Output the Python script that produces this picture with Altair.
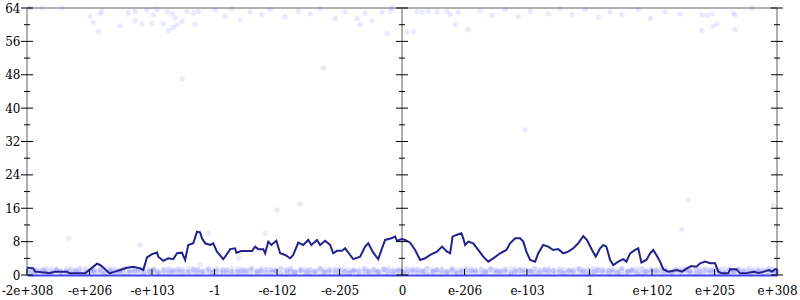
import json
import altair as alt
import pandas as pd

# ---------------- data ----------------
tick_pos = [0, 1, 2, 3, 4, 5, 6, 7, 8, 9, 10, 11, 12]
tick_labels = ["-2e+308", "-e+206", "-e+103", "-1", "-e-102", "-e-205", "0",
               "e-206", "e-103", "1", "e+102", "e+205", "e+308"]
y_major = [0, 8, 16, 24, 32, 40, 48, 56, 64]
y_minor = [4, 12, 20, 28, 36, 44, 52, 60]
axis_lines = [0, 6, 12]

line_x = [0.00, 0.10, 0.13, 0.32, 0.35, 0.45, 0.64, 0.68, 0.93, 1.01, 1.12, 1.17, 1.25, 1.32, 1.41,
          1.49, 1.60, 1.70, 1.81, 1.86, 1.92, 2.00, 2.08, 2.10, 2.18, 2.26, 2.34, 2.40, 2.48, 2.53,
          2.58, 2.66, 2.72, 2.77, 2.80, 2.85, 2.93, 2.98, 3.04, 3.14, 3.19, 3.25, 3.33, 3.35, 3.43,
          3.60, 3.65, 3.70, 3.78, 3.81, 3.86, 3.91, 3.99, 4.05, 4.13, 4.21, 4.26, 4.34, 4.42, 4.50,
          4.55, 4.64, 4.69, 4.77, 4.85, 4.90, 4.96, 5.04, 5.09, 5.17, 5.22, 5.33, 5.41, 5.46, 5.54,
          5.62, 5.68, 5.73, 5.83, 5.89, 5.92, 6.00, 6.05, 6.13, 6.21, 6.29, 6.37, 6.45, 6.56, 6.64,
          6.72, 6.77, 6.81, 6.87, 6.95, 6.98, 7.01, 7.06, 7.14, 7.22, 7.30, 7.38, 7.46, 7.57, 7.67,
          7.73, 7.81, 7.89, 7.94, 7.99, 8.05, 8.13, 8.18, 8.26, 8.34, 8.42, 8.50, 8.58, 8.66, 8.74,
          8.82, 8.90, 8.96, 9.04, 9.10, 9.17, 9.22, 9.27, 9.33, 9.38, 9.46, 9.54, 9.59, 9.65, 9.73,
          9.78, 9.83, 9.91, 9.97, 10.02, 10.07, 10.13, 10.18, 10.26, 10.40, 10.48, 10.56, 10.63,
          10.71, 10.77, 10.85, 10.93, 11.01, 11.06, 11.11, 11.22, 11.25, 11.35, 11.41, 11.52, 11.63,
          11.71, 11.79, 11.87, 11.92, 11.97, 12.00]
line_err = [1.75, 1.6, 0.8, 0.55, 0.4, 0.8, 0.8, 0.4, 0.4, 1.35, 2.7, 2.4, 1.4, 0.4, 0.8,
            1.2, 1.75, 2.0, 1.6, 1.2, 4.2, 5.0, 5.4, 4.4, 3.4, 4.0, 3.8, 5.2, 5.35, 3.6,
            7.2, 7.6, 10.4, 10.2, 8.8, 7.6, 7.2, 7.6, 5.6, 3.8, 4.8, 6.2, 6.4, 5.35, 5.75,
            5.75, 6.8, 6.2, 6.2, 5.2, 8.0, 7.2, 8.2, 5.2, 4.8, 4.0, 4.8, 7.75, 7.2, 8.4,
            7.2, 8.4, 7.2, 8.2, 7.2, 5.2, 5.8, 5.8, 6.4, 4.8, 3.8, 4.4, 6.8, 7.6, 5.35,
            3.8, 6.4, 8.4, 8.8, 9.2, 8.2, 8.6, 8.4, 7.75, 6.0, 3.6, 4.0, 4.8, 5.6, 6.8,
            5.6, 5.2, 9.2, 9.6, 10.0, 8.8, 7.2, 8.0, 7.6, 6.0, 4.4, 3.2, 4.0, 5.2, 6.0,
            7.6, 8.8, 8.8, 8.0, 5.6, 3.6, 3.2, 5.2, 7.2, 6.8, 6.0, 6.2, 5.2, 5.6, 6.4,
            7.6, 9.35, 8.4, 6.0, 4.4, 6.4, 7.2, 6.8, 3.6, 2.4, 3.2, 3.8, 3.2, 5.2, 6.0,
            6.4, 3.0, 3.6, 5.2, 6.0, 4.8, 3.2, 1.4, 0.8, 1.2, 0.8, 1.6, 2.15,
            2.0, 2.8, 3.2, 2.8, 2.8, 0.8, 0.4, 0.4, 1.4, 1.4, 0.4, 0.5, 0.8,
            0.5, 0.8, 1.2, 0.8, 1.4, 1.4]

band_x = [0.03, 0.10, 0.16, 0.25, 0.31, 0.39, 0.47, 0.54, 0.63, 0.70,
          0.78, 0.85, 0.94, 1.02, 1.08, 1.17, 1.24, 1.33, 1.41, 1.48,
          1.55, 1.64, 1.72, 1.79, 1.87, 1.96, 2.03, 2.10, 2.19, 2.27,
          2.34, 2.42, 2.49, 2.58, 2.66, 2.73, 2.81, 2.90, 2.97, 3.04,
          3.13, 3.20, 3.28, 3.37, 3.44, 3.51, 3.59, 3.68, 3.75, 3.83,
          3.91, 3.98, 4.06, 4.15, 4.22, 4.29, 4.38, 4.46, 4.53, 4.61,
          4.69, 4.76, 4.84, 4.93, 5.00, 5.08, 5.16, 5.23, 5.31, 5.40,
          5.47, 5.55, 5.62, 5.71, 5.78, 5.86, 5.94, 6.02, 6.09, 6.17,
          6.25, 6.33, 6.40, 6.49, 6.56, 6.64, 6.72, 6.80, 6.87, 6.95,
          7.03, 7.11, 7.18, 7.27, 7.34, 7.42, 7.50, 7.57, 7.65, 7.74,
          7.81, 7.89, 7.96, 8.05, 8.12, 8.20, 8.28, 8.35, 8.43, 8.52,
          8.59, 8.67, 8.74, 8.83, 8.90, 8.98, 9.06, 9.13, 9.21, 9.30,
          9.37, 9.45, 9.52, 9.61, 9.68, 9.76, 9.84, 9.91, 9.99, 10.07,
          10.15, 10.22, 10.31, 10.38, 10.46, 10.54, 10.61, 10.70, 10.77, 10.85,
          10.93, 11.00, 11.08, 11.16, 11.24, 11.31, 11.39, 11.47, 11.55, 11.62,
          11.70, 11.78, 11.86, 11.93, 11.99]
band_err_a = [0.5, 0.2, 0.8, 0.4, 0.7, 0.3, 0.9, 0.5, 0.6, 0.2,
              0.7, 0.4, 0.9, 0.3, 0.6, 0.5, 0.2, 0.8, 0.4, 0.7,
              0.3, 0.6, 0.9, 0.2, 0.5, 0.8, 0.4, 0.6, 0.3, 0.7,
              0.5, 0.9, 0.2, 0.6, 0.4, 0.8, 0.3, 0.5, 0.7, 0.2,
              0.8, 0.3, 0.6, 0.5, 0.9, 0.4, 0.2, 0.7, 0.5, 0.3,
              0.6, 0.8, 0.4, 0.2, 0.7, 0.5, 0.9, 0.3, 0.6, 0.4,
              0.2, 0.7, 0.5, 0.8, 0.3, 0.6, 0.4, 0.9, 0.2, 0.5,
              0.7, 0.3, 0.8, 0.4, 0.6, 0.2, 0.9, 0.5, 0.3, 0.7,
              0.4, 0.6, 0.2, 0.8, 0.5, 0.3, 0.7, 0.9, 0.4, 0.6,
              0.3, 0.8, 0.5, 0.2, 0.6, 0.4, 0.7, 0.3, 0.9, 0.5,
              0.6, 0.2, 0.4, 0.8, 0.7, 0.3, 0.5, 0.9, 0.2, 0.6,
              0.4, 0.7, 0.3, 0.5, 0.8, 0.2, 0.6, 0.4, 0.9, 0.3,
              0.7, 0.5, 0.2, 0.6, 0.8, 0.4, 0.3, 0.7, 0.5, 0.9,
              0.2, 0.6, 0.4, 0.8, 0.3, 0.5, 0.7, 0.2, 0.6, 0.4,
              0.9, 0.3, 0.5, 0.7, 0.2, 0.8, 0.4, 0.6, 0.3, 0.5,
              0.7, 0.2, 0.6, 0.4, 0.8]
band_err_b = [1.2, 1.5, 1.0, 1.4, 1.1, 1.6, 1.3, 0.9, 1.5, 1.2,
              1.0, 1.4, 1.6, 1.1, 1.3, 0.9, 1.5, 1.2, 1.4, 1.0,
              1.6, 1.2, 1.1, 1.4, 0.9, 1.3, 1.5, 1.0, 1.2, 1.6,
              1.1, 1.3, 1.4, 0.9, 1.5, 1.2, 1.0, 1.6, 1.3, 1.1,
              1.4, 1.2, 0.9, 1.5, 1.1, 1.3, 1.6, 1.0, 1.2, 1.4,
              1.3, 1.0, 1.5, 1.2, 1.6, 0.9, 1.1, 1.4, 1.3, 1.0,
              1.5, 1.2, 1.1, 1.4, 1.6, 1.0, 1.3, 0.9, 1.2, 1.5,
              1.1, 1.4, 1.0, 1.3, 1.6, 1.2, 0.9, 1.5, 1.1, 1.4,
              1.2, 1.0, 1.6, 1.3, 1.1, 1.5, 0.9, 1.4, 1.2, 1.0,
              1.6, 1.1, 1.3, 1.4, 1.0, 1.5, 1.2, 0.9, 1.3, 1.6,
              1.1, 1.4, 1.2, 1.0, 1.5, 1.3, 0.9, 1.6, 1.2, 1.1,
              1.4, 1.0, 1.3, 1.5, 1.2, 0.9, 1.6, 1.1, 1.4, 1.0,
              1.3, 1.2, 1.5, 0.9, 1.1, 1.6, 1.4, 1.0, 1.3, 1.2,
              1.5, 1.1, 0.9, 1.4, 1.6, 1.2, 1.0, 1.3, 1.5, 1.1,
              1.2, 1.4, 1.0, 1.6, 1.3, 0.9, 1.5, 1.2, 1.1, 1.4,
              1.0, 1.3, 1.5, 1.2, 1.1]
band_err_c = [0.3, 0.9, 0.6, 1.1, 0.4, 0.8, 1.2, 0.5, 1.0, 0.7,
              1.3, 0.6, 0.3, 1.0, 0.8, 1.2, 0.4, 0.9, 0.6, 1.1,
              0.5, 1.0, 0.7, 1.3, 0.4, 0.8, 1.1, 0.3, 0.9, 0.6,
              1.2, 0.5, 1.0, 0.7, 1.3, 0.4, 0.8, 1.1, 0.6, 0.9,
              0.4, 1.2, 0.7, 1.0, 0.3, 0.8, 1.1, 0.5, 0.9, 1.3,
              0.6, 1.0, 0.3, 1.2, 0.8, 0.5, 1.1, 0.7, 0.4, 0.9,
              1.3, 0.6, 1.0, 0.3, 1.2, 0.8, 0.5, 1.1, 0.7, 0.9,
              0.4, 1.0, 0.6, 1.3, 0.3, 0.9, 1.1, 0.5, 0.8, 1.2,
              0.6, 1.0, 0.4, 0.9, 1.3, 0.7, 0.5, 1.1, 0.3, 0.8,
              1.2, 0.6, 1.0, 0.4, 0.9, 1.3, 0.5, 1.1, 0.7, 0.3,
              0.8, 1.2, 0.6, 1.0, 0.4, 0.9, 1.3, 0.5, 1.1, 0.7,
              0.3, 1.0, 0.8, 1.2, 0.6, 0.4, 0.9, 1.1, 0.5, 1.3,
              0.7, 0.3, 1.0, 0.8, 1.2, 0.6, 0.4, 0.9, 1.1, 0.5,
              1.3, 0.7, 0.3, 1.0, 0.8, 1.2, 0.6, 0.4, 0.9, 1.1,
              0.5, 1.3, 0.7, 0.3, 1.0, 0.8, 1.2, 0.6, 0.4, 0.9,
              1.1, 0.5, 1.3, 0.7, 0.3]
band_err_d = [1.5, 0.7, 1.3, 0.9, 1.6, 0.6, 1.4, 1.1, 0.8, 1.5,
              0.9, 1.6, 0.7, 1.3, 1.0, 1.4, 0.6, 1.5, 1.1, 0.8,
              1.4, 0.7, 1.5, 1.0, 1.6, 0.9, 1.3, 0.6, 1.4, 1.1,
              0.8, 1.5, 0.7, 1.6, 1.0, 1.3, 0.9, 1.4, 0.6, 1.5,
              1.1, 0.8, 1.6, 0.7, 1.3, 1.0, 1.4, 0.9, 1.5, 0.6,
              1.3, 1.1, 1.6, 0.8, 1.4, 0.7, 1.5, 1.0, 1.3, 0.9,
              1.6, 0.6, 1.4, 1.1, 0.8, 1.5, 0.7, 1.3, 1.0, 1.6,
              0.9, 1.4, 0.6, 1.5, 1.1, 0.8, 1.3, 0.7, 1.6, 1.0,
              1.4, 0.9, 1.5, 0.6, 1.3, 1.1, 0.8, 1.6, 0.7, 1.4,
              1.0, 1.5, 0.9, 1.3, 0.6, 1.6, 1.1, 0.8, 1.4, 0.7,
              1.5, 1.0, 1.3, 0.9, 1.6, 0.6, 1.4, 1.1, 0.8, 1.5,
              0.7, 1.3, 1.0, 1.6, 0.9, 1.4, 0.6, 1.5, 1.1, 0.8,
              1.3, 0.7, 1.6, 1.0, 1.4, 0.9, 1.5, 0.6, 1.3, 1.1,
              0.8, 1.6, 0.7, 1.4, 1.0, 1.5, 0.9, 1.3, 0.6, 1.6,
              1.1, 0.8, 1.4, 0.7, 1.5, 1.0, 1.3, 0.9, 1.6, 0.6,
              1.4, 1.1, 0.8, 1.5, 0.7]

top_x = [0.05, 0.24, 0.56, 1.01, 1.06, 1.14, 1.17, 1.20, 1.49, 1.62, 1.73, 1.73, 1.84, 1.92,
         2.00, 2.02, 2.08, 2.18, 2.24, 2.26, 2.32, 2.34, 2.37, 2.40, 2.48, 2.56, 2.66, 2.69, 2.74,
         3.01, 3.17, 3.28, 3.41, 3.57, 3.76, 3.89, 4.13, 4.34, 4.53, 4.69, 4.93, 5.09,
         5.28, 5.33, 5.41, 5.52, 5.68, 5.76, 5.81, 5.84, 6.08, 6.18, 6.24, 6.32, 6.42, 6.56,
         6.72, 6.77, 6.85, 6.90, 7.06, 7.25, 7.44, 7.65, 7.86, 8.05, 8.34, 8.53, 8.72, 8.93,
         9.14, 9.33, 9.52, 9.78, 9.97, 10.21, 10.45, 10.80, 10.80, 10.88, 10.96, 10.98, 11.04,
         11.30, 11.33, 11.33, 11.60]
top_err = [64.0, 64.0, 64.0, 62.0, 60.5, 58.3, 62.6, 63.2, 59.7, 62.8, 61.0, 63.2, 60.2, 63.5,
           60.3, 62.3, 63.7, 60.2, 63.1, 58.6, 62.6, 59.3, 61.6, 60.0, 60.8, 63.2, 62.8, 60.0, 63.2,
           63.5, 62.0, 63.8, 61.2, 63.0, 62.4, 63.6, 61.8, 63.2, 62.6, 63.8, 61.5, 63.0,
           61.5, 60.0, 62.8, 61.0, 63.0, 57.9, 63.2, 64.0, 58.3, 58.3, 63.2, 63.0, 63.2, 63.0,
           63.2, 62.4, 60.0, 63.0, 58.8, 63.4, 62.2, 63.6, 62.0, 63.2, 62.6, 63.8, 62.4, 63.6,
           61.8, 63.0, 62.4, 63.6, 61.5, 63.0, 62.6, 62.3, 58.6, 62.3, 62.6, 59.6, 60.2,
           62.8, 62.3, 58.8, 64.0]

mid_x = [0.67, 1.81, 2.90, 3.39, 3.81, 2.77, 4.37, 4.00, 10.58, 10.48, 11.94, 2.48, 4.74, 7.97]
mid_err = [8.8, 7.2, 10.0, 4.0, 10.0, 2.4, 17.0, 15.6, 18.0, 10.8, 16.8, 47.0, 49.6, 34.8]

# ---------------- tables ----------------
rows = []
for errs in (band_err_a, band_err_b, band_err_c, band_err_d):
    rows += [{"x": a, "err": b} for a, b in zip(band_x, errs)]
rows += [{"x": a, "err": b} for a, b in zip(top_x, top_err)]
rows += [{"x": a, "err": b} for a, b in zip(mid_x, mid_err)]
pts = pd.DataFrame(rows)

line_df = pd.DataFrame({"x": line_x, "err": line_err})
axes_df = pd.DataFrame({"x": axis_lines})
major_df = pd.DataFrame([{"x": a, "y": v} for a in axis_lines for v in y_major])
minor_df = pd.DataFrame([{"x": a, "y": v} for a in axis_lines for v in y_minor])
xtick_df = pd.DataFrame({"x": tick_pos, "y": [0] * len(tick_pos)})

xs = alt.Scale(domain=[0, 12], nice=False, zero=False)
ys = alt.Scale(domain=[0, 64], nice=False, zero=False)
FONT = "DejaVu Serif"

label_expr = json.dumps(tick_labels) + "[round(datum.value)]"

x_axis = alt.Axis(values=tick_pos, labelExpr=label_expr, title=None, ticks=False, tickSize=0,
                  domain=True, domainColor="#4848ee", domainWidth=2, grid=False,
                  labelFont=FONT, labelFontSize=12, labelColor="black", labelPadding=10,
                  labelFlush=False, labelOverlap=False)
y_axis = alt.Axis(values=y_major, title=None, ticks=False, tickSize=0, domain=False, grid=False,
                  labelFont=FONT, labelFontSize=12, labelColor="black", labelPadding=7,
                  labelOverlap=False, labelFlush=False, format="d")


def X(f):
    return alt.X(f, scale=xs, axis=x_axis)


def Y(f):
    return alt.Y(f, scale=ys, axis=y_axis)


rules = alt.Chart(axes_df).mark_rule(color="#b0b0b0", strokeWidth=2).encode(x=X("x:Q"))
top_rule = alt.Chart(pd.DataFrame({"y": [64]})).mark_rule(color="#b0b0b0", strokeWidth=2).encode(y=Y("y:Q"))
points = alt.Chart(pts).mark_circle(color="#2a2aff", opacity=0.1, size=28).encode(
    x=X("x:Q"), y=Y("err:Q")
)
line = alt.Chart(line_df).mark_line(color="#22228c", strokeWidth=2).encode(x=X("x:Q"), y=Y("err:Q"))
major_ticks = alt.Chart(major_df).mark_tick(orient="horizontal", size=12, thickness=1, color="black", opacity=1).encode(
    x=X("x:Q"), y=Y("y:Q")
)
minor_ticks = alt.Chart(minor_df).mark_tick(orient="horizontal", size=6, thickness=1, color="black", opacity=1).encode(
    x=X("x:Q"), y=Y("y:Q")
)
x_ticks = alt.Chart(xtick_df).mark_tick(orient="vertical", size=6, thickness=1, color="black", opacity=1, yOffset=-3).encode(
    x=X("x:Q"), y=Y("y:Q")
)

chart = alt.layer(rules, top_rule, points, line, major_ticks, minor_ticks, x_ticks).properties(
    width=750, height=267,
    autosize=alt.AutoSizeParams(type="none"),
    padding={"left": 27, "top": 8, "right": 23, "bottom": 25},
    background="white",
).configure_view(stroke=None)

chart.save("out.html", embed_options={"renderer": "svg", "actions": False})
